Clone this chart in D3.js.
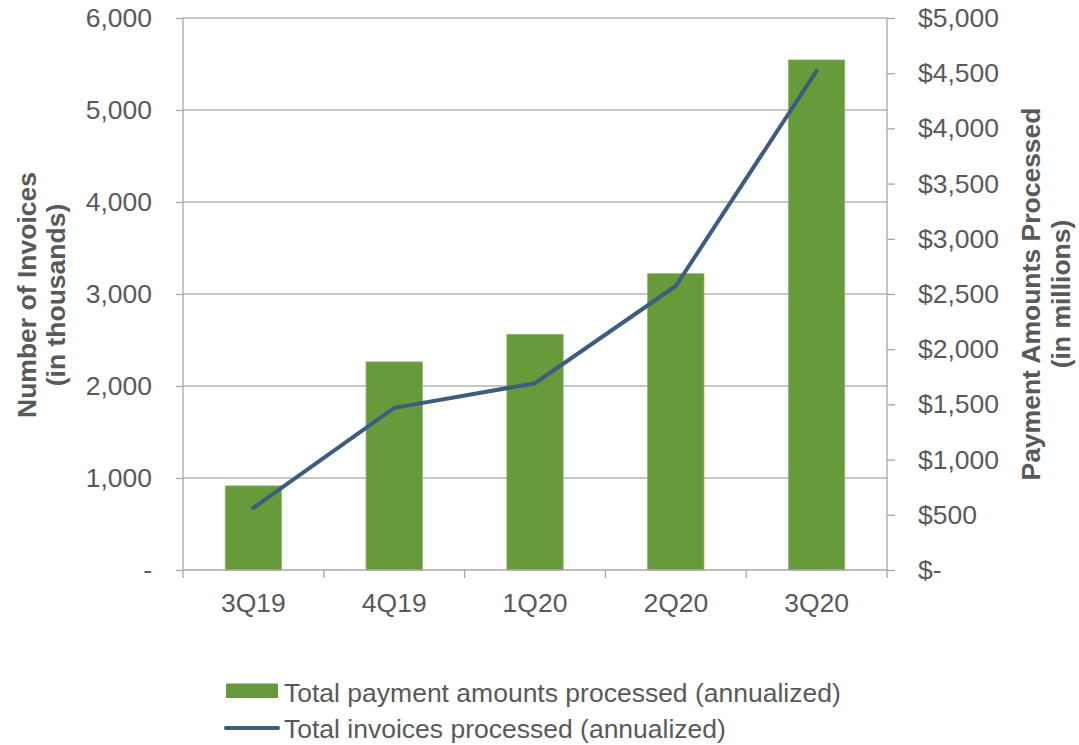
<!DOCTYPE html>
<html><head><meta charset="utf-8">
<script src="https://cdn.jsdelivr.net/npm/d3@7"></script>
<style>body{margin:0;background:#fff}svg{display:block}text{font-family:"Liberation Sans",Arial,sans-serif}</style>
</head><body><svg id="c" width="1079" height="745"></svg>
<script>
const categories = ["3Q19","4Q19","1Q20","2Q20","3Q20"];
const paymentAmounts = [762, 1885, 2135, 2684, 4620];   // $ millions (bars, right axis)
const invoiceCounts = [675, 1762, 2030, 3087, 5425];     // thousands (line, left axis)
const leftTicks = [0,1000,2000,3000,4000,5000,6000];
const rightTicks = [0,500,1000,1500,2000,2500,3000,3500,4000,4500,5000];
const legendLabels = ["Total payment amounts processed (annualized)","Total invoices processed (annualized)"];

const svg = d3.select("#c");
const L = 183, R = 887, T = 18, B = 570;
const textColor = "#595959", gridColor = "#b3b3b3", axisColor = "#a6a6a6";
const green = "#669a3a", blue = "#3d5d7e";
const fs = 26.5;

const x = d3.scaleBand().domain(categories).range([L, R]).paddingInner(0.6).paddingOuter(0.3);
const yL = d3.scaleLinear().domain([0,6000]).range([B, T]);
const yR = d3.scaleLinear().domain([0,5000]).range([B, T]);

// gridlines
svg.append("g").selectAll("line").data(leftTicks.filter(d=>d>0)).join("line")
  .attr("x1", L).attr("x2", R).attr("y1", d=>yL(d)).attr("y2", d=>yL(d))
  .attr("stroke", gridColor).attr("stroke-width", 1.3);

// bars
svg.append("g").selectAll("rect").data(categories).join("rect")
  .attr("x", d=>x(d)).attr("width", x.bandwidth())
  .attr("y", (d,i)=>yR(paymentAmounts[i])).attr("height", (d,i)=>B - yR(paymentAmounts[i]))
  .attr("fill", green).attr("stroke", "#8fb56c").attr("stroke-width", 0.8);

// left axis
const la = svg.append("g").attr("transform", `translate(${L},0)`)
  .call(d3.axisLeft(yL).tickValues(leftTicks).tickSize(7).tickPadding(24)
    .tickFormat(d => d === 0 ? "-" : d3.format(",")(d)));
// right axis
const ra = svg.append("g").attr("transform", `translate(${R},0)`)
  .call(d3.axisRight(yR).tickValues(rightTicks).tickSize(8).tickPadding(23)
    .tickFormat(d => d === 0 ? "$-" : "$" + d3.format(",")(d)));
// bottom axis with ticks at category boundaries
const xa = svg.append("g").attr("transform", `translate(0,${B})`)
  .call(d3.axisBottom(x).tickSize(0).tickPadding(23));
const bounds = d3.range(categories.length + 1).map(i => L + i * (R - L) / categories.length);
svg.append("g").selectAll("line").data(bounds).join("line")
  .attr("x1", d=>d).attr("x2", d=>d).attr("y1", B).attr("y2", B + 8)
  .attr("stroke", axisColor).attr("stroke-width", 1.3);

[la, ra, xa].forEach(g => {
  g.select(".domain").attr("stroke", axisColor).attr("stroke-width", 1.3);
  g.selectAll(".tick line").attr("stroke", axisColor).attr("stroke-width", 1.3);
  g.selectAll(".tick text").attr("fill", textColor).attr("font-size", fs)
    .attr("font-family", "Liberation Sans, Arial, sans-serif");
});
xa.select(".domain").attr("d", `M${L},0H${R}`);
la.select(".domain").attr("d", `M0,${T}V${B}`);
ra.select(".domain").attr("d", `M0,${T}V${B}`);

// line
const line = d3.line().x((d,i)=>x(categories[i]) + x.bandwidth()/2).y(d=>yL(d));
svg.append("path").datum(invoiceCounts).attr("d", line)
  .attr("fill","none").attr("stroke", blue).attr("stroke-width", 4).attr("stroke-linecap","round").attr("stroke-linejoin","round");

// axis titles
const lt = svg.append("text").attr("transform", "translate(41,295) rotate(-90)")
  .attr("text-anchor","middle").attr("fill", textColor).attr("font-size", fs).attr("font-weight","bold");
lt.append("tspan").attr("x",0).attr("y",-5).text("Number of Invoices");
lt.append("tspan").attr("x",0).attr("y",24).text("(in thousands)");
const rt = svg.append("text").attr("transform", "translate(1045,294) rotate(-90)")
  .attr("text-anchor","middle").attr("fill", textColor).attr("font-size", fs).attr("font-weight","bold");
rt.append("tspan").attr("x",0).attr("y",-5).text("Payment Amounts Processed");
rt.append("tspan").attr("x",0).attr("y",25).text("(in millions)");

// legend
const lg = svg.append("g");
lg.append("rect").attr("x",226).attr("y",683.5).attr("width",52).attr("height",14.5).attr("fill",green);
lg.append("line").attr("x1",226).attr("x2",278).attr("y1",728).attr("y2",728).attr("stroke",blue).attr("stroke-width",4).attr("stroke-linecap","round");
lg.selectAll("text").data(legendLabels).join("text")
  .attr("x",284).attr("y",(d,i)=>701.5 + i*36.5)
  .attr("fill", textColor).attr("font-size", fs).text(d=>d);
</script></body></html>
